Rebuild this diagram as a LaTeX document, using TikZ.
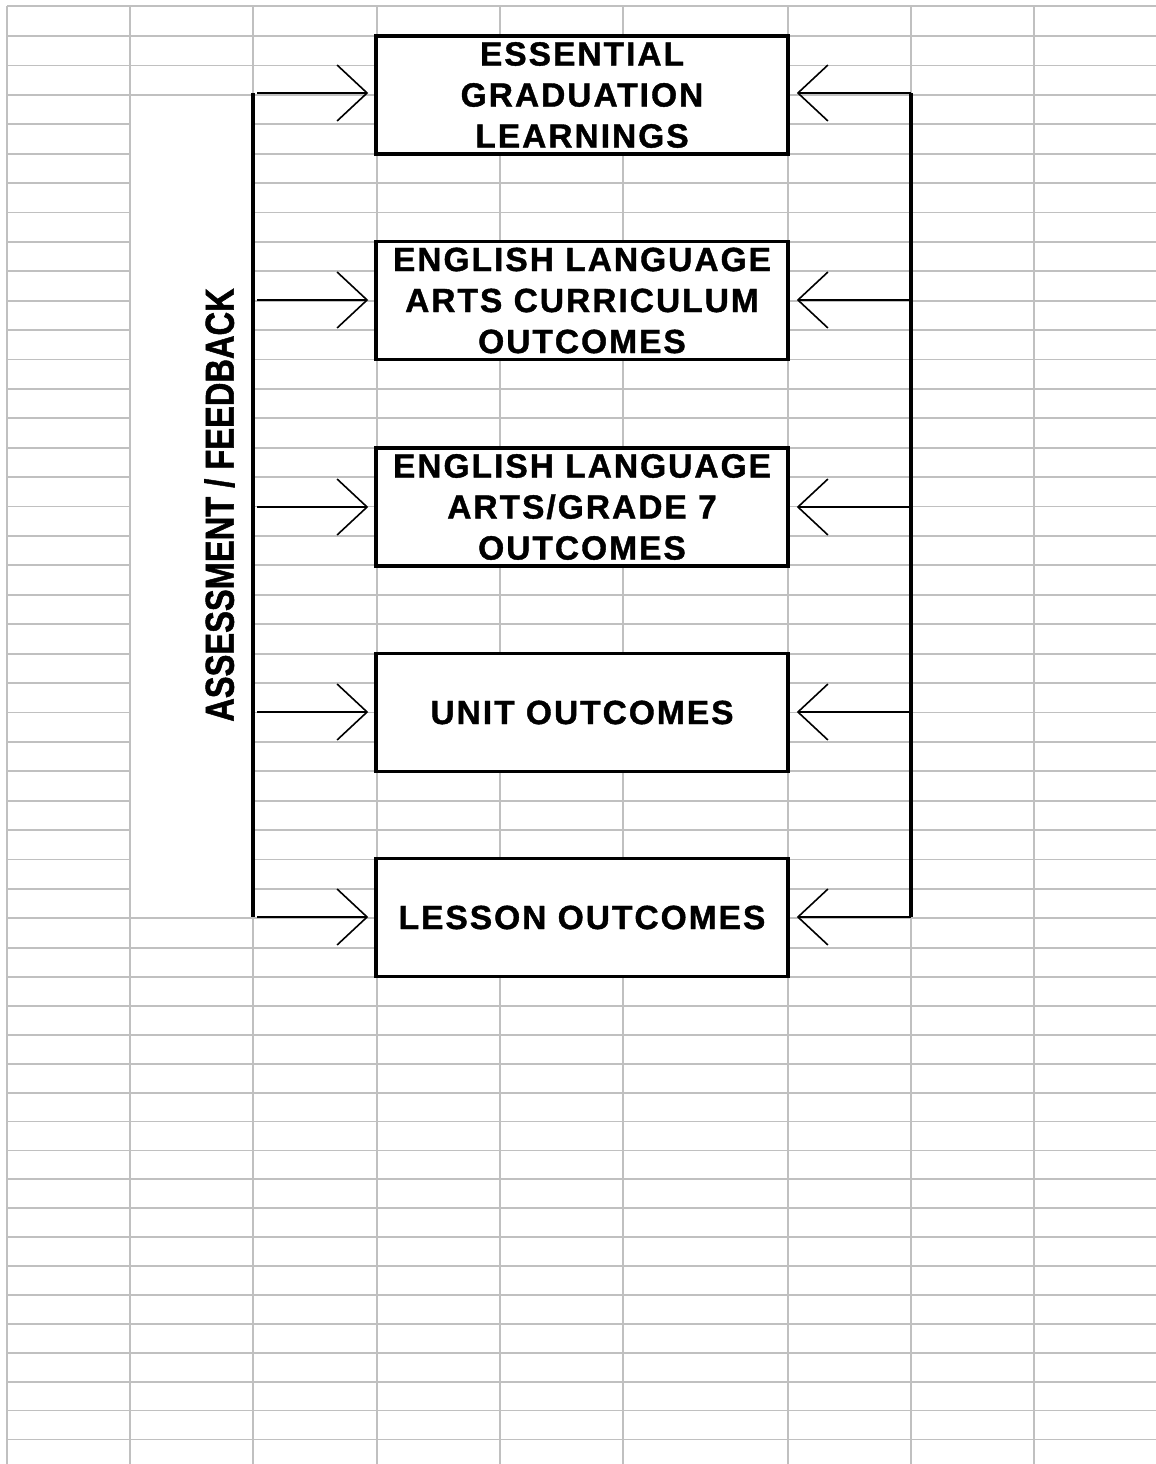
\documentclass[tikz,border=0pt]{standalone}
\usepackage{fontspec}
\newfontfamily\boxfont{Liberation Sans}[LetterSpace=6, BoldFeatures={FakeBold=1.2}]
\newfontfamily\sidefont{Liberation Sans}[BoldFeatures={FakeBold=1.4}]
\usepackage{graphicx}
\usepackage{tikz}
\usetikzlibrary{arrows.meta}
\definecolor{gridgray}{RGB}{192,192,192}
\tikzset{mynode/.style={draw, line width = 3.5pt, fill=white, minimum width=412pt, minimum height=118pt, inner sep=0pt, align=center, font=\boxfont\bfseries\fontsize{33.5}{41}\selectfont}}
\tikzset{feed/.style={line width=2.2pt, -{Straight Barb[length=30pt, width=56pt, line width=1.6pt]}}}
\tikzset{gridline/.style={gridgray, line width=1.8pt}}
\tikzset{bracket/.style={line width=3.5pt}}

\begin{document}
\begin{tikzpicture}[x=1pt, y=-1pt]
    \useasboundingbox (0,0) rectangle (1156,1464);
    \fill[white] (0,0) rectangle (1156,1464);
    \foreach \gx in {7,130,253,377,500,623,788,911,1034}
        \draw[gridline] (\gx,6) -- (\gx,1464);
    \draw[gridline] (7,6) -- (1156,6);
    \foreach \r in {1,...,33}
        \draw[gridline] (7,{36+(\r-1)*29.41}) -- (1156,{36+(\r-1)*29.41});
    \foreach \r in {1,...,16}
        \draw[gridline] (7,{977+\r*28.9}) -- (1156,{977+\r*28.9});
    \fill[white] (131.2,96.5) rectangle (251.8,916.5);

    \node[mynode] (A) at (582,95)    {ESSENTIAL\\GRADUATION\\LEARNINGS};
    \node[mynode] (B) at (582,300.5) {ENGLISH LANGUAGE\\ARTS CURRICULUM\\OUTCOMES};
    \node[mynode] (C) at (582,507)   {ENGLISH LANGUAGE\\ARTS/GRADE 7\\OUTCOMES};
    \node[mynode] (D) at (582,712.5) {UNIT OUTCOMES};
    \node[mynode] (E) at (582,917.5) {LESSON OUTCOMES};

    \coordinate (fa) at (253,93);
    \coordinate (fb) at (253,300);
    \coordinate (fc) at (253,507);
    \coordinate (fd) at (253,712);
    \coordinate (fe) at (253,917);
    \coordinate (ra) at (911,93);
    \coordinate (rb) at (911,300);
    \coordinate (rc) at (911,507);
    \coordinate (rd) at (911,712);
    \coordinate (re) at (911,917);

    \draw[bracket] (fa) -- (fe);
    \draw[bracket] (ra) -- (re);

    \draw[feed, shorten <=4pt, shorten >=6pt] (fa) -- (fa -| A.west);
    \draw[feed, shorten <=4pt, shorten >=6pt] (fb) -- (fb -| B.west);
    \draw[feed, shorten <=4pt, shorten >=6pt] (fc) -- (fc -| C.west);
    \draw[feed, shorten <=4pt, shorten >=6pt] (fd) -- (fd -| D.west);
    \draw[feed, shorten <=4pt, shorten >=6pt] (fe) -- (fe -| E.west);
    \draw[feed, shorten >=7pt] (ra) -- (ra -| A.east);
    \draw[feed, shorten >=7pt] (rb) -- (rb -| B.east);
    \draw[feed, shorten >=7pt] (rc) -- (rc -| C.east);
    \draw[feed, shorten >=7pt] (rd) -- (rd -| D.east);
    \draw[feed, shorten >=7pt] (re) -- (re -| E.east);

    \node[rotate=90, font=\sidefont\bfseries\fontsize{32}{38}\selectfont] (lbl) at (219.5,505) {\scalebox{1.02}[1.26]{ASSESSMENT / FEEDBACK}};
\end{tikzpicture}
\end{document}
